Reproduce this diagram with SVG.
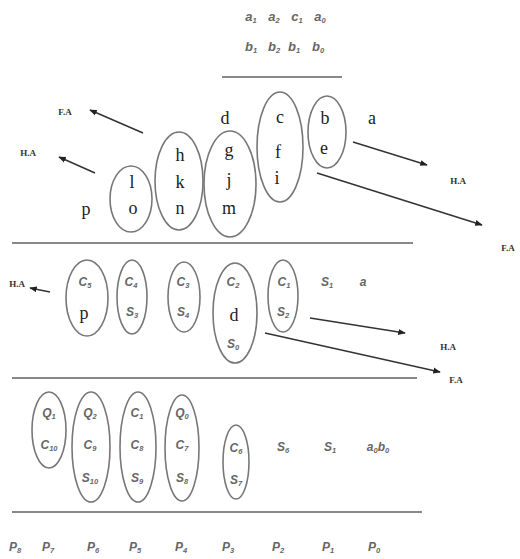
<svg xmlns="http://www.w3.org/2000/svg" width="520" height="559" viewBox="0 0 520 559">
<defs>
<marker id="ah" viewBox="0 0 10 10" refX="9" refY="5" markerWidth="5" markerHeight="5" orient="auto-start-reverse">
<path d="M0,1 L10,5 L0,9 z" fill="#222"/>
</marker>
<style>
.ell{fill:none;stroke:#777;stroke-width:1.6}
.sep{stroke:#888;stroke-width:2.2}
.big{font-family:"Liberation Serif",serif;font-size:18px;fill:#222;text-anchor:middle}
.sm{font-family:"Liberation Sans",sans-serif;font-style:italic;font-weight:bold;font-size:12px;fill:#666;text-anchor:middle}
.hd{font-family:"Liberation Sans",sans-serif;font-style:italic;font-weight:bold;font-size:13px;fill:#666;text-anchor:middle}
.sub{font-size:7.5px}
.lab{font-family:"Liberation Serif",serif;font-weight:bold;font-size:9px;fill:#333;text-anchor:middle}
.arr{stroke:#333;stroke-width:1.5;fill:none;marker-end:url(#ah)}
</style>
</defs>
<rect width="520" height="559" fill="#fff"/>

<g id="header">
<text class="hd" x="251" y="21">a<tspan class="sub" dy="2">1</tspan></text>
<text class="hd" x="274" y="21">a<tspan class="sub" dy="2">2</tspan></text>
<text class="hd" x="297" y="21">c<tspan class="sub" dy="2">1</tspan></text>
<text class="hd" x="320" y="21">a<tspan class="sub" dy="2">0</tspan></text>
<text class="hd" x="251" y="51">b<tspan class="sub" dy="2">1</tspan></text>
<text class="hd" x="274" y="51">b<tspan class="sub" dy="2">2</tspan></text>
<text class="hd" x="294" y="51">b<tspan class="sub" dy="2">1</tspan></text>
<text class="hd" x="318" y="51">b<tspan class="sub" dy="2">0</tspan></text>
<line class="sep" x1="222" y1="77" x2="342" y2="77"/>
</g>

<g id="separators">
<line class="sep" x1="12" y1="243" x2="413" y2="243"/>
<line class="sep" x1="12" y1="378" x2="417" y2="378"/>
<line class="sep" x1="12" y1="512" x2="422" y2="512"/>
</g>

<g id="row1">
<g id="n-p1"><text class="big" x="86" y="215">p</text></g>
<g id="n-lo"><ellipse class="ell" cx="131" cy="199" rx="21" ry="33"/><text class="big" x="132" y="188">l</text><text class="big" x="133" y="214">o</text></g>
<g id="n-hkn"><ellipse class="ell" cx="179" cy="181" rx="24" ry="49"/><text class="big" x="180" y="161">h</text><text class="big" x="180" y="188">k</text><text class="big" x="180" y="214">n</text></g>
<g id="n-d"><text class="big" x="225" y="124">d</text></g>
<g id="n-gjm"><ellipse class="ell" cx="230" cy="184" rx="26" ry="53"/><text class="big" x="229" y="156">g</text><text class="big" x="229" y="186">j</text><text class="big" x="229" y="214">m</text></g>
<g id="n-cfi"><ellipse class="ell" cx="280" cy="147" rx="23" ry="55"/><text class="big" x="280" y="123">c</text><text class="big" x="278" y="158">f</text><text class="big" x="277" y="184">i</text></g>
<g id="n-be"><ellipse class="ell" cx="327" cy="132" rx="19" ry="36"/><text class="big" x="325" y="124">b</text><text class="big" x="324" y="154">e</text></g>
<g id="n-a1"><text class="big" x="372" y="124">a</text></g>
<g id="l-fa1"><text class="lab" x="65" y="115">F.A</text></g>
<g id="l-ha1"><text class="lab" x="28" y="156">H.A</text></g>
<g id="l-ha2"><text class="lab" x="458" y="184">H.A</text></g>
<g id="l-fa2"><text class="lab" x="508" y="251">F.A</text></g>
</g>

<g id="row2">
<g id="n-c5p"><ellipse class="ell" cx="87" cy="298" rx="21" ry="38"/><text class="sm" x="85" y="286">C<tspan class="sub" dy="2">5</tspan></text><text class="big" x="84" y="319">p</text></g>
<g id="n-c4s3"><ellipse class="ell" cx="132" cy="297" rx="15" ry="37"/><text class="sm" x="131" y="286">C<tspan class="sub" dy="2">4</tspan></text><text class="sm" x="132" y="316">S<tspan class="sub" dy="2">3</tspan></text></g>
<g id="n-c3s4"><ellipse class="ell" cx="184" cy="297" rx="16" ry="35"/><text class="sm" x="183" y="286">C<tspan class="sub" dy="2">3</tspan></text><text class="sm" x="183" y="316">S<tspan class="sub" dy="2">4</tspan></text></g>
<g id="n-c2ds0"><ellipse class="ell" cx="235" cy="313" rx="22" ry="50"/><text class="sm" x="233" y="286">C<tspan class="sub" dy="2">2</tspan></text><text class="big" x="234" y="321">d</text><text class="sm" x="233" y="348">S<tspan class="sub" dy="2">0</tspan></text></g>
<g id="n-c1s2"><ellipse class="ell" cx="283" cy="296" rx="15" ry="36"/><text class="sm" x="284" y="286">C<tspan class="sub" dy="2">1</tspan></text><text class="sm" x="283" y="316">S<tspan class="sub" dy="2">2</tspan></text></g>
<g id="n-s1"><text class="sm" x="327" y="286">S<tspan class="sub" dy="2">1</tspan></text></g>
<g id="n-a2"><text class="sm" x="363" y="286">a</text></g>
<g id="l-ha3"><text class="lab" x="17" y="287">H.A</text></g>
<g id="l-ha4"><text class="lab" x="448" y="350">H.A</text></g>
<g id="l-fa3"><text class="lab" x="456" y="383">F.A</text></g>
</g>

<g id="row3">
<g id="n-q1c10"><ellipse class="ell" cx="49" cy="430" rx="17" ry="38"/><text class="sm" x="49" y="417">Q<tspan class="sub" dy="2">1</tspan></text><text class="sm" x="49" y="449">C<tspan class="sub" dy="2">10</tspan></text></g>
<g id="n-q2c9s10"><ellipse class="ell" cx="91" cy="447" rx="19" ry="55"/><text class="sm" x="90" y="417">Q<tspan class="sub" dy="2">2</tspan></text><text class="sm" x="90" y="449">C<tspan class="sub" dy="2">9</tspan></text><text class="sm" x="90" y="482">S<tspan class="sub" dy="2">10</tspan></text></g>
<g id="n-c1c8s9"><ellipse class="ell" cx="138" cy="447" rx="18" ry="55"/><text class="sm" x="137" y="417">C<tspan class="sub" dy="2">1</tspan></text><text class="sm" x="137" y="449">C<tspan class="sub" dy="2">8</tspan></text><text class="sm" x="137" y="482">S<tspan class="sub" dy="2">9</tspan></text></g>
<g id="n-q0c7s8"><ellipse class="ell" cx="182" cy="448" rx="17" ry="53"/><text class="sm" x="182" y="417">Q<tspan class="sub" dy="2">0</tspan></text><text class="sm" x="182" y="449">C<tspan class="sub" dy="2">7</tspan></text><text class="sm" x="182" y="482">S<tspan class="sub" dy="2">8</tspan></text></g>
<g id="n-c6s7"><ellipse class="ell" cx="236" cy="462" rx="13" ry="37"/><text class="sm" x="236" y="452">C<tspan class="sub" dy="2">6</tspan></text><text class="sm" x="236" y="484">S<tspan class="sub" dy="2">7</tspan></text></g>
<g id="n-s6"><text class="sm" x="283" y="451">S<tspan class="sub" dy="2">6</tspan></text></g>
<g id="n-s1b"><text class="sm" x="330" y="451">S<tspan class="sub" dy="2">1</tspan></text></g>
<g id="n-a0b0"><text class="sm" x="378" y="451">a<tspan class="sub" dy="2">0</tspan><tspan dy="-2">b</tspan><tspan class="sub" dy="2">0</tspan></text></g>
</g>

<g id="footer">
<text class="sm" x="15" y="551">P<tspan class="sub" dy="2">8</tspan></text>
<text class="sm" x="48" y="551">P<tspan class="sub" dy="2">7</tspan></text>
<text class="sm" x="93" y="551">P<tspan class="sub" dy="2">6</tspan></text>
<text class="sm" x="135" y="551">P<tspan class="sub" dy="2">5</tspan></text>
<text class="sm" x="181" y="551">P<tspan class="sub" dy="2">4</tspan></text>
<text class="sm" x="228" y="551">P<tspan class="sub" dy="2">3</tspan></text>
<text class="sm" x="278" y="551">P<tspan class="sub" dy="2">2</tspan></text>
<text class="sm" x="328" y="551">P<tspan class="sub" dy="2">1</tspan></text>
<text class="sm" x="374" y="551">P<tspan class="sub" dy="2">0</tspan></text>
</g>

<g id="connectors">
<line class="arr" x1="143" y1="133" x2="90" y2="110"/>
<line class="arr" x1="95" y1="173" x2="59" y2="157"/>
<line class="arr" x1="353" y1="142" x2="427" y2="165"/>
<line class="arr" x1="317" y1="173" x2="482" y2="225"/>
<line class="arr" x1="50" y1="292" x2="30" y2="288"/>
<line class="arr" x1="310" y1="318" x2="405" y2="333"/>
<line class="arr" x1="265" y1="333" x2="440" y2="372"/>
</g>
</svg>
